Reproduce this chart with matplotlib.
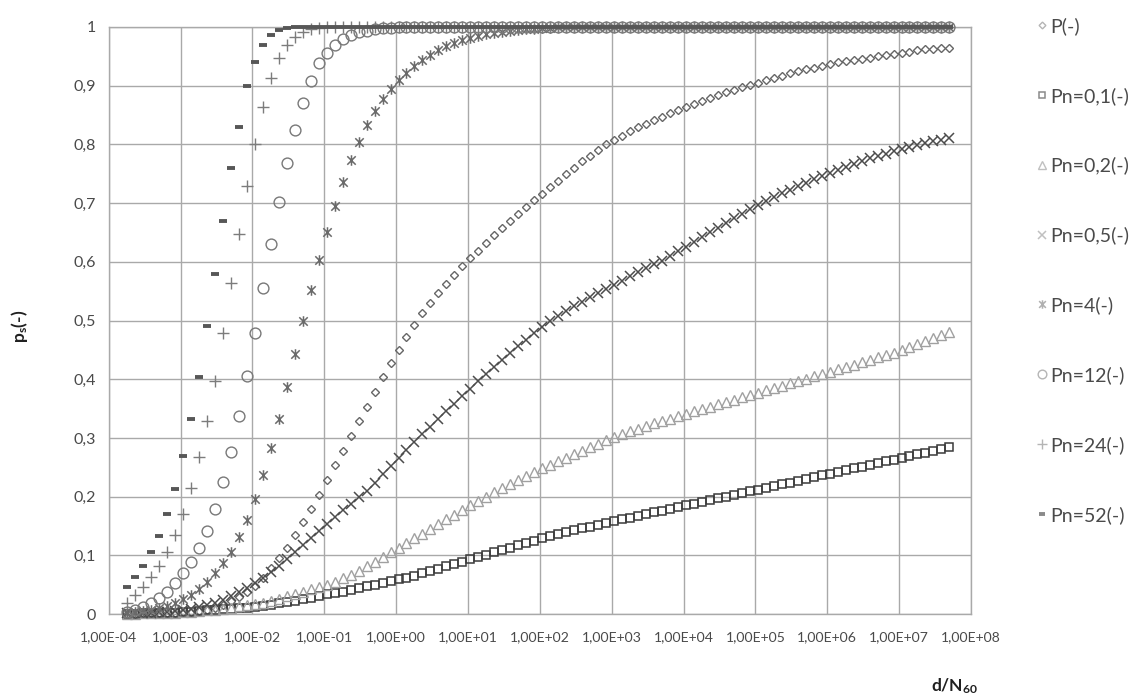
import matplotlib
matplotlib.use("Agg")
import matplotlib.pyplot as plt
from matplotlib.path import Path
from matplotlib.lines import Line2D
from matplotlib.ticker import FixedLocator, FuncFormatter, NullLocator

plt.rcParams['font.family'] = ['Lato', 'DejaVu Sans']
plt.rcParams['mathtext.fontset'] = 'custom'
plt.rcParams['mathtext.rm'] = 'Lato:bold'
plt.rcParams['mathtext.it'] = 'Lato:bold'
plt.rcParams['mathtext.bf'] = 'Lato:bold'

# ---------------- data ----------------
x_vals = [
    1.80e-4, 2.32e-4, 3.00e-4, 3.88e-4, 5.01e-4, 6.47e-4, 8.35e-4, 1.08e-3, 1.39e-3,
    1.80e-3, 2.32e-3, 3.00e-3, 3.88e-3, 5.01e-3, 6.47e-3, 8.35e-3, 1.08e-2, 1.39e-2,
    1.80e-2, 2.32e-2, 3.00e-2, 3.88e-2, 5.01e-2, 6.47e-2, 8.35e-2, 1.08e-1, 1.39e-1,
    1.80e-1, 2.32e-1, 3.00e-1, 3.88e-1, 5.01e-1, 6.47e-1, 8.35e-1, 1.08e0, 1.39e0,
    1.80e0, 2.32e0, 3.00e0, 3.88e0, 5.01e0, 6.47e0, 8.35e0, 1.08e1, 1.39e1,
    1.80e1, 2.32e1, 3.00e1, 3.88e1, 5.01e1, 6.47e1, 8.35e1, 1.08e2, 1.39e2,
    1.80e2, 2.32e2, 3.00e2, 3.88e2, 5.01e2, 6.47e2, 8.35e2, 1.08e3, 1.39e3,
    1.80e3, 2.32e3, 3.00e3, 3.88e3, 5.01e3, 6.47e3, 8.35e3, 1.08e4, 1.39e4,
    1.80e4, 2.32e4, 3.00e4, 3.88e4, 5.01e4, 6.47e4, 8.35e4, 1.08e5, 1.39e5,
    1.80e5, 2.32e5, 3.00e5, 3.88e5, 5.01e5, 6.47e5, 8.35e5, 1.08e6, 1.39e6,
    1.80e6, 2.32e6, 3.00e6, 3.88e6, 5.01e6, 6.47e6, 8.35e6, 1.08e7, 1.39e7,
    1.80e7, 2.32e7, 3.00e7, 3.88e7, 5.01e7,
]

p_P = [
    0.000, 0.000, 0.001, 0.001, 0.001, 0.002, 0.002, 0.003, 0.004, 0.005,
    0.007, 0.011, 0.016, 0.022, 0.029, 0.037, 0.048, 0.062, 0.078, 0.095,
    0.113, 0.134, 0.156, 0.179, 0.203, 0.228, 0.253, 0.278, 0.303, 0.328,
    0.353, 0.378, 0.403, 0.427, 0.450, 0.472, 0.493, 0.512, 0.530, 0.547,
    0.563, 0.578, 0.592, 0.606, 0.619, 0.632, 0.645, 0.657, 0.669, 0.681,
    0.693, 0.705, 0.716, 0.727, 0.738, 0.749, 0.760, 0.771, 0.781, 0.791,
    0.800, 0.808, 0.815, 0.822, 0.829, 0.835, 0.841, 0.847, 0.853, 0.859,
    0.864, 0.869, 0.874, 0.879, 0.884, 0.889, 0.893, 0.897, 0.901, 0.905,
    0.909, 0.913, 0.917, 0.921, 0.925, 0.928, 0.931, 0.934, 0.937, 0.940,
    0.942, 0.944, 0.946, 0.948, 0.950, 0.952, 0.954, 0.956, 0.958, 0.960,
    0.962, 0.963, 0.964, 0.965,
]

p_01 = [
    0.000, 0.000, 0.001, 0.001, 0.001, 0.002, 0.002, 0.003, 0.004, 0.005,
    0.006, 0.007, 0.008, 0.009, 0.010, 0.011, 0.012, 0.014, 0.016, 0.018,
    0.020, 0.022, 0.025, 0.028, 0.031, 0.034, 0.036, 0.038, 0.041, 0.044,
    0.047, 0.050, 0.053, 0.056, 0.059, 0.062, 0.065, 0.069, 0.073, 0.077,
    0.081, 0.085, 0.089, 0.093, 0.097, 0.101, 0.105, 0.109, 0.113, 0.117,
    0.121, 0.125, 0.129, 0.133, 0.137, 0.140, 0.143, 0.146, 0.149, 0.152,
    0.155, 0.158, 0.161, 0.164, 0.167, 0.170, 0.173, 0.176, 0.179, 0.182,
    0.185, 0.188, 0.191, 0.194, 0.197, 0.200, 0.203, 0.206, 0.209, 0.212,
    0.215, 0.218, 0.221, 0.224, 0.227, 0.230, 0.233, 0.236, 0.239, 0.242,
    0.245, 0.248, 0.251, 0.254, 0.257, 0.260, 0.263, 0.266, 0.269, 0.272,
    0.275, 0.278, 0.281, 0.284,
]

p_02 = [
    0.000, 0.000, 0.001, 0.001, 0.001, 0.002, 0.002, 0.003, 0.004, 0.005,
    0.006, 0.007, 0.009, 0.011, 0.013, 0.015, 0.017, 0.019, 0.022, 0.026,
    0.030, 0.034, 0.038, 0.042, 0.046, 0.050, 0.055, 0.061, 0.067, 0.074,
    0.081, 0.089, 0.097, 0.105, 0.113, 0.121, 0.129, 0.137, 0.145, 0.153,
    0.161, 0.169, 0.177, 0.185, 0.193, 0.200, 0.207, 0.214, 0.221, 0.228,
    0.235, 0.242, 0.248, 0.254, 0.260, 0.266, 0.272, 0.278, 0.284, 0.290,
    0.296, 0.301, 0.306, 0.311, 0.316, 0.321, 0.325, 0.329, 0.333, 0.337,
    0.341, 0.345, 0.349, 0.353, 0.357, 0.361, 0.365, 0.369, 0.373, 0.377,
    0.381, 0.385, 0.389, 0.393, 0.397, 0.401, 0.405, 0.409, 0.413, 0.417,
    0.421, 0.425, 0.429, 0.433, 0.437, 0.441, 0.445, 0.450, 0.455, 0.460,
    0.465, 0.470, 0.475, 0.480,
]

p_05 = [
    0.001, 0.001, 0.002, 0.002, 0.003, 0.004, 0.005, 0.007, 0.009, 0.012,
    0.015, 0.019, 0.024, 0.030, 0.037, 0.044, 0.052, 0.061, 0.071, 0.082,
    0.094, 0.106, 0.118, 0.130, 0.142, 0.154, 0.166, 0.177, 0.188, 0.199,
    0.210, 0.224, 0.238, 0.252, 0.266, 0.280, 0.293, 0.306, 0.319, 0.332,
    0.345, 0.358, 0.371, 0.384, 0.397, 0.409, 0.421, 0.433, 0.445, 0.456,
    0.467, 0.478, 0.489, 0.500, 0.508, 0.516, 0.524, 0.532, 0.540, 0.547,
    0.554, 0.561, 0.568, 0.575, 0.582, 0.589, 0.596, 0.602, 0.610, 0.618,
    0.626, 0.634, 0.642, 0.650, 0.658, 0.666, 0.674, 0.682, 0.690, 0.697,
    0.704, 0.711, 0.717, 0.723, 0.729, 0.735, 0.741, 0.746, 0.751, 0.756,
    0.761, 0.766, 0.771, 0.776, 0.780, 0.784, 0.788, 0.792, 0.796, 0.799,
    0.802, 0.805, 0.808, 0.811,
]

p_4 = [
    0.002, 0.003, 0.005, 0.007, 0.010, 0.014, 0.019, 0.025, 0.033, 0.043,
    0.055, 0.070, 0.087, 0.106, 0.131, 0.160, 0.196, 0.237, 0.283, 0.332,
    0.387, 0.443, 0.499, 0.552, 0.603, 0.651, 0.695, 0.736, 0.773, 0.804,
    0.833, 0.857, 0.877, 0.894, 0.909, 0.922, 0.933, 0.943, 0.952, 0.960,
    0.967, 0.973, 0.978, 0.982, 0.985, 0.988, 0.990, 0.992, 0.994, 0.995,
    0.996, 0.997, 0.998, 0.999, 1.000, 1.000, 1.000, 1.000, 1.000, 1.000,
    1.000, 1.000, 1.000, 1.000, 1.000, 1.000, 1.000, 1.000, 1.000, 1.000,
    1.000, 1.000, 1.000, 1.000, 1.000, 1.000, 1.000, 1.000, 1.000, 1.000,
    1.000, 1.000, 1.000, 1.000, 1.000, 1.000, 1.000, 1.000, 1.000, 1.000,
    1.000, 1.000, 1.000, 1.000, 1.000, 1.000, 1.000, 1.000, 1.000, 1.000,
    1.000, 1.000, 1.000, 1.000,
]

p_12 = [
    0.004, 0.007, 0.012, 0.019, 0.028, 0.038, 0.053, 0.070, 0.089, 0.112,
    0.141, 0.179, 0.225, 0.276, 0.337, 0.405, 0.479, 0.555, 0.630, 0.702,
    0.768, 0.825, 0.871, 0.908, 0.938, 0.956, 0.969, 0.979, 0.986, 0.991,
    0.994, 0.996, 0.998, 0.999, 1.000, 1.000, 1.000, 1.000, 1.000, 1.000,
    1.000, 1.000, 1.000, 1.000, 1.000, 1.000, 1.000, 1.000, 1.000, 1.000,
    1.000, 1.000, 1.000, 1.000, 1.000, 1.000, 1.000, 1.000, 1.000, 1.000,
    1.000, 1.000, 1.000, 1.000, 1.000, 1.000, 1.000, 1.000, 1.000, 1.000,
    1.000, 1.000, 1.000, 1.000, 1.000, 1.000, 1.000, 1.000, 1.000, 1.000,
    1.000, 1.000, 1.000, 1.000, 1.000, 1.000, 1.000, 1.000, 1.000, 1.000,
    1.000, 1.000, 1.000, 1.000, 1.000, 1.000, 1.000, 1.000, 1.000, 1.000,
    1.000, 1.000, 1.000, 1.000,
]

p_24 = [
    0.019, 0.032, 0.046, 0.063, 0.082, 0.106, 0.135, 0.170, 0.214, 0.267,
    0.329, 0.397, 0.479, 0.564, 0.647, 0.729, 0.800, 0.864, 0.913, 0.947,
    0.969, 0.983, 0.991, 0.996, 0.998, 1.000, 1.000, 1.000, 1.000, 1.000,
    1.000, 1.000, 1.000, 1.000, 1.000, 1.000, 1.000, 1.000, 1.000, 1.000,
    1.000, 1.000, 1.000, 1.000, 1.000, 1.000, 1.000, 1.000, 1.000, 1.000,
    1.000, 1.000, 1.000, 1.000, 1.000, 1.000, 1.000, 1.000, 1.000, 1.000,
    1.000, 1.000, 1.000, 1.000, 1.000, 1.000, 1.000, 1.000, 1.000, 1.000,
    1.000, 1.000, 1.000, 1.000, 1.000, 1.000, 1.000, 1.000, 1.000, 1.000,
    1.000, 1.000, 1.000, 1.000, 1.000, 1.000, 1.000, 1.000, 1.000, 1.000,
    1.000, 1.000, 1.000, 1.000, 1.000, 1.000, 1.000, 1.000, 1.000, 1.000,
    1.000, 1.000, 1.000, 1.000,
]

p_52 = [
    0.046, 0.063, 0.082, 0.106, 0.133, 0.170, 0.213, 0.269, 0.332, 0.404,
    0.490, 0.580, 0.670, 0.760, 0.830, 0.900, 0.940, 0.970, 0.986, 0.995,
    0.998, 1.000, 1.000, 1.000, 1.000, 1.000, 1.000, 1.000, 1.000, 1.000,
    1.000, 1.000, 1.000, 1.000, 1.000, 1.000, 1.000, 1.000, 1.000, 1.000,
    1.000, 1.000, 1.000, 1.000, 1.000, 1.000, 1.000, 1.000, 1.000, 1.000,
    1.000, 1.000, 1.000, 1.000, 1.000, 1.000, 1.000, 1.000, 1.000, 1.000,
    1.000, 1.000, 1.000, 1.000, 1.000, 1.000, 1.000, 1.000, 1.000, 1.000,
    1.000, 1.000, 1.000, 1.000, 1.000, 1.000, 1.000, 1.000, 1.000, 1.000,
    1.000, 1.000, 1.000, 1.000, 1.000, 1.000, 1.000, 1.000, 1.000, 1.000,
    1.000, 1.000, 1.000, 1.000, 1.000, 1.000, 1.000, 1.000, 1.000, 1.000,
    1.000, 1.000, 1.000, 1.000,
]

series_labels = ["P(-)", "Pn=0,1(-)", "Pn=0,2(-)", "Pn=0,5(-)",
                 "Pn=4(-)", "Pn=12(-)", "Pn=24(-)", "Pn=52(-)"]
x_ticks = [1e-4, 1e-3, 1e-2, 1e-1, 1e0, 1e1, 1e2, 1e3, 1e4, 1e5, 1e6, 1e7, 1e8]
y_ticks = [0.0, 0.1, 0.2, 0.3, 0.4, 0.5, 0.6, 0.7, 0.8, 0.9, 1.0]

# ---------------- styling ----------------
star = Path([(-1, -1), (1, 1), (-1, 1), (1, -1), (0, -1.25), (0, 1.25)],
            [Path.MOVETO, Path.LINETO, Path.MOVETO, Path.LINETO,
             Path.MOVETO, Path.LINETO])

styles = [
    dict(marker='D', ms=4.3, mew=1.0, color='#666666'),
    dict(marker='s', ms=6.2, mew=1.1, color='#3a3a3a'),
    dict(marker='^', ms=6.6, mew=1.0, color='#a0a0a0'),
    dict(marker='x', ms=6.6, mew=1.1, color='#4c4c4c'),
    dict(marker=star, ms=7.6, mew=1.1, color='#6a6a6a'),
    dict(marker='o', ms=7.8, mew=1.0, color='#787878'),
    dict(marker='+', ms=8.6, mew=1.0, color='#7c7c7c'),
    dict(marker='_', ms=5.2, mew=2.8, color='#575757'),
]
legend_colors = ['#b5b5b5', '#8a8a8a', '#c0c0c0', '#c0c0c0',
                 '#b0b0b0', '#b5b5b5', '#b5b5b5', '#8a8a8a']

W, H = 1137, 695
fig = plt.figure(figsize=(W / 100, H / 100), dpi=100)
ax = fig.add_axes([108.7 / W, 1 - 614 / H, (971 - 108.7) / W, (614 - 27) / H])
ax.set_xscale('log')
ax.set_xlim(1e-4, 1e8)
ax.set_ylim(0, 1)

all_series = [p_P, p_01, p_02, p_05, p_4, p_12, p_24, p_52]
for yv, st, lab in zip(all_series, styles, series_labels):
    ax.plot(x_vals, yv, linestyle='none', marker=st['marker'], markersize=st['ms'],
            markerfacecolor='none', markeredgecolor=st['color'],
            markeredgewidth=st['mew'], clip_on=False, label=lab, zorder=3)

grid_c = '#a9a9a9'
ax.xaxis.set_major_locator(FixedLocator(x_ticks))
ax.xaxis.set_minor_locator(NullLocator())
ax.yaxis.set_major_locator(FixedLocator(y_ticks))


def fmt_x(v, pos):
    import math
    e = int(round(math.log10(v)))
    return "1,00E" + ("+" if e >= 0 else "-") + "%02d" % abs(e)


def fmt_y(v, pos):
    if abs(v) < 1e-9:
        return "0"
    if abs(v - 1) < 1e-9:
        return "1"
    return ("%.1f" % v).replace('.', ',')


ax.xaxis.set_major_formatter(FuncFormatter(fmt_x))
ax.yaxis.set_major_formatter(FuncFormatter(fmt_y))
ax.tick_params(axis='x', length=0, pad=12, labelsize=10.1, labelcolor='#4a4a4a')
ax.tick_params(axis='y', length=0, pad=9, labelsize=11.5, labelcolor='#4a4a4a')
ax.grid(True, color=grid_c, linewidth=1.0, zorder=0)
ax.set_axisbelow(True)
for sp in ax.spines.values():
    sp.set_color(grid_c)
    sp.set_linewidth(1.0)

fig.text(20 / W, 1 - 326 / H, r'p$_{\mathrm{s}}$(-)', rotation=90,
         ha='center', va='center', fontsize=12.5, fontweight='bold', color='#202020')
fig.text(955 / W, 1 - 686 / H, r'd/N$_{\mathrm{60}}$', ha='center', va='center',
         fontsize=12.5, fontweight='bold', color='#202020')

handles = []
for st, lc, lab in zip(styles, legend_colors, series_labels):
    handles.append(Line2D([], [], linestyle='none', marker=st['marker'],
                          markersize=st['ms'] * 0.8, markerfacecolor='none',
                          markeredgecolor=lc, markeredgewidth=st['mew'], label=lab))
leg = ax.legend(handles=handles, loc='upper left',
                bbox_to_anchor=(1036 / W, 1 - 17 / H), bbox_transform=fig.transFigure,
                frameon=False, labelspacing=2.67, handlelength=0.6,
                handletextpad=0.12, borderpad=0, borderaxespad=0, fontsize=14)
for t in leg.get_texts():
    t.set_color('#4a4a4a')

fig.savefig('out.png', dpi=100)
